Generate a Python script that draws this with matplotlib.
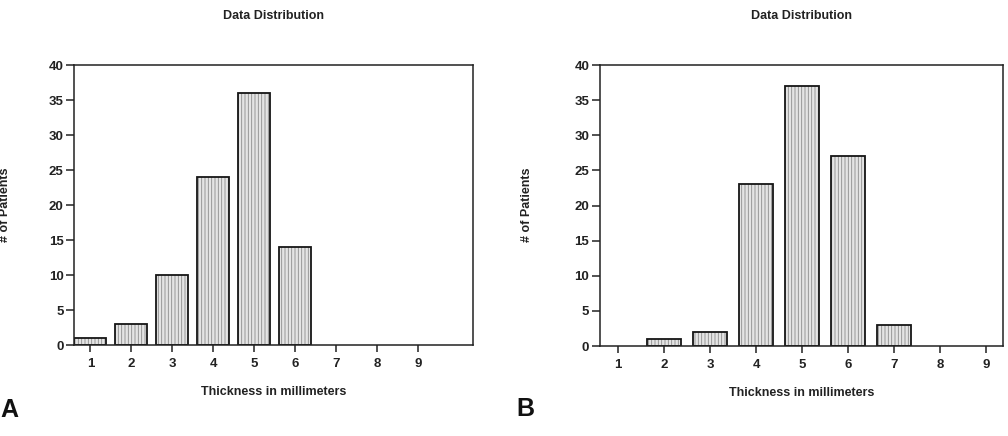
import numpy as np
from matplotlib import pyplot as plt

# Data
thickness = [1, 2, 3, 4, 5, 6, 7, 8, 9]
patients_a = [1, 3, 10, 24, 36, 14, 0, 0, 0]
patients_b = [0, 1, 2, 23, 37, 27, 3, 0, 0]
yticks = [0, 5, 10, 15, 20, 25, 30, 35, 40]

plt.rcParams['font.family'] = ['Liberation Sans', 'DejaVu Sans']
plt.rcParams['hatch.linewidth'] = 0.6
plt.rcParams['hatch.color'] = '#8a8a8a'

fig = plt.figure(figsize=(10.08, 4.36), dpi=100)
fig.patch.set_facecolor('white')

def draw_panel(rect, values, xmax, width, ytitle):
    ax = fig.add_axes(rect)
    xs = [x for x, v in zip(thickness, values) if v > 0]
    vs = [v for v in values if v > 0]
    # hatched fill
    ax.bar(xs, vs, width=width, color='#e4e4e4',
           edgecolor='#8a8a8a', linewidth=0, hatch='|||||')
    # outline
    ax.bar(xs, vs, width=width, fill=False,
           edgecolor='#151515', linewidth=1.3)
    ax.set_xlim(0.6, xmax)
    ax.set_ylim(0, 40)
    ax.set_xticks(thickness)
    ax.set_yticks(yticks)
    ax.tick_params(axis='y', direction='out', length=6, width=1.1,
                   color='#222222', labelsize=9.5, labelcolor='#222222', pad=1.5)
    ax.tick_params(axis='x', direction='out', length=5, width=1.1,
                   color='#222222', labelsize=9.5, labelcolor='#222222', pad=4)
    for s in ax.spines.values():
        s.set_linewidth(1.1)
        s.set_color('#222222')
    for lab in ax.get_xticklabels() + ax.get_yticklabels():
        lab.set_fontweight('bold')
    ax.set_title('Data Distribution', fontsize=9, fontweight='bold',
                 color='#222222', y=ytitle)
    ax.set_xlabel('Thickness in millimeters', fontsize=9, fontweight='bold',
                  color='#222222')
    ax.xaxis.set_label_coords(0.5, -0.145)
    return ax

ax_a = draw_panel([0.0734, 0.2087, 0.396, 0.642], patients_a, 10.35, 0.78, 1.135)
ax_b = draw_panel([0.595, 0.2064, 0.400, 0.6445], patients_b, 9.37, 0.75, 1.135)

fig.text(5 / 1008, 1 - 205 / 436, '# of Patients', rotation=90, ha='center',
         va='center', fontsize=9, fontweight='bold', color='#222222')
fig.text(527 / 1008, 1 - 205 / 436, '# of Patients', rotation=90, ha='center',
         va='center', fontsize=9, fontweight='bold', color='#222222')

fig.text(0 / 1008, 1 - 410 / 436, 'A', ha='left', va='center', fontsize=18,
         fontweight='bold', color='#111111')
fig.text(516 / 1008, 1 - 409 / 436, 'B', ha='left', va='center', fontsize=18,
         fontweight='bold', color='#111111')

plt.savefig('out.png', dpi=100)
